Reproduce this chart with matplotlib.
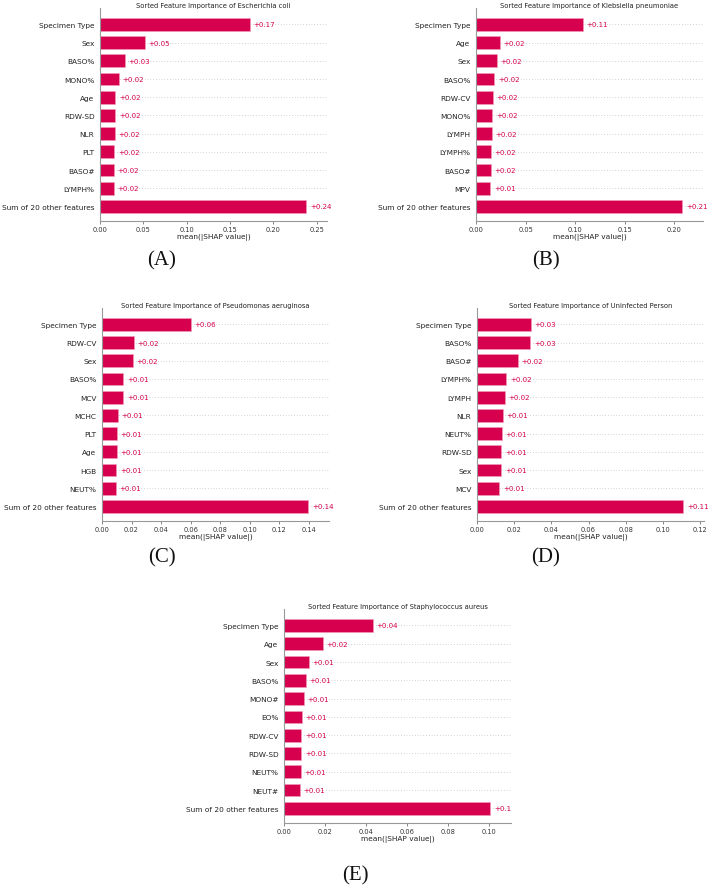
import matplotlib
matplotlib.use("Agg")
import matplotlib.pyplot as plt
from matplotlib.ticker import MultipleLocator

# feature names (top to bottom) and mean(|SHAP value|) for each panel
feat_a = ["Specimen Type", "Sex", "BASO%", "MONO%", "Age", "RDW-SD", "NLR", "PLT", "BASO#", "LYMPH%",
          "Sum of 20 other features"]
vals_a = [0.173, 0.0515, 0.029, 0.022, 0.0177, 0.0177, 0.0173, 0.0165, 0.0162, 0.0157, 0.238]

feat_b = ["Specimen Type", "Age", "Sex", "BASO%", "RDW-CV", "MONO%", "LYMPH", "LYMPH%", "BASO#", "MPV",
          "Sum of 20 other features"]
vals_b = [0.108, 0.0243, 0.021, 0.0185, 0.0169, 0.0165, 0.0157, 0.0152, 0.0151, 0.0146, 0.208]

feat_c = ["Specimen Type", "RDW-CV", "Sex", "BASO%", "MCV", "MCHC", "PLT", "Age", "HGB", "NEUT%",
          "Sum of 20 other features"]
vals_c = [0.060, 0.0217, 0.021, 0.0145, 0.0145, 0.0106, 0.0102, 0.0099, 0.0097, 0.0092, 0.1397]

feat_d = ["Specimen Type", "BASO%", "BASO#", "LYMPH%", "LYMPH", "NLR", "NEUT%", "RDW-SD", "Sex", "MCV",
          "Sum of 20 other features"]
vals_d = [0.0289, 0.0287, 0.0221, 0.0157, 0.0151, 0.014, 0.0135, 0.0131, 0.0131, 0.0121, 0.111]

feat_e = ["Specimen Type", "Age", "Sex", "BASO%", "MONO#", "EO%", "RDW-CV", "RDW-SD", "NEUT%", "NEUT#",
          "Sum of 20 other features"]
vals_e = [0.0433, 0.0191, 0.0121, 0.0106, 0.0098, 0.0087, 0.0085, 0.0085, 0.0083, 0.0077, 0.1008]

titles = ["Escherichia coli", "Klebsiella pneumoniae", "Pseudomonas aeruginosa",
          "Uninfected Person", "Staphylococcus aureus"]
letters = ["(A)", "(B)", "(C)", "(D)", "(E)"]
tick_steps = [0.05, 0.05, 0.02, 0.02, 0.02]

W, H = 708, 887
RED = "#d7004f"
fig = plt.figure(figsize=(W / 100, H / 100), dpi=100)
plt.rcParams['font.family'] = ['DejaVu Sans']


def fmt(v):
    s = "%+.2f" % v
    return s.rstrip("0").rstrip(".") if "." in s else s


def shap_bar(box, feats, vals, title, step):
    left, top, right, bottom = box
    ax = fig.add_axes([left / W, 1 - bottom / H, (right - left) / W, (bottom - top) / H])
    n = len(feats)
    ypos = list(range(n - 1, -1, -1))
    for y in ypos:
        ax.axhline(y, color="#aaaaaa", lw=0.5, dashes=(1, 3), zorder=-1)
    ax.barh(ypos, vals, height=0.7, color=RED, edgecolor="#f2a0bb", linewidth=0.4, zorder=2)
    for y, v in zip(ypos, vals):
        ax.annotate(fmt(v), (v, y), xytext=(2.6, 0), textcoords="offset points",
                    va="center", ha="left", color=RED, fontsize=5)
    ax.set_yticks(ypos)
    ax.set_yticklabels(feats, fontsize=5.3, color="#222222")
    ax.set_ylim(-0.8, n - 0.1)
    ax.set_xlim(0, max(vals) * 1.1)
    ax.xaxis.set_major_locator(MultipleLocator(step))
    ax.xaxis.set_major_formatter(plt.FormatStrFormatter("%.2f"))
    ax.tick_params(axis="x", labelsize=4.8, length=2, width=0.5, pad=1.5, color="#555555",
                   labelcolor="#333333")
    ax.tick_params(axis="y", length=0, pad=4)
    ax.set_xlabel("mean(|SHAP value|)", fontsize=5.3, labelpad=1, color="#222222")
    ax.set_title("Sorted Feature Importance of " + title, fontsize=4.9, pad=0.8, color="#222222")
    for s in ["top", "right"]:
        ax.spines[s].set_visible(False)
    for s in ["left", "bottom"]:
        ax.spines[s].set_color("#999999")
        ax.spines[s].set_linewidth(0.8)
    return ax


boxes = [(100, 9, 327, 222), (476, 9, 703, 222), (102, 309, 329, 522),
         (477, 309, 704, 522), (284, 610, 511, 824)]
feats = [feat_a, feat_b, feat_c, feat_d, feat_e]
vals = [vals_a, vals_b, vals_c, vals_d, vals_e]
for box, f, v, t, st in zip(boxes, feats, vals, titles, tick_steps):
    shap_bar(box, f, v, t, st)

letter_pos = [(162, 261), (546, 261), (162, 558), (546, 558), (355, 876)]
for (x, y), lab in zip(letter_pos, letters):
    fig.text(x / W, 1 - y / H, lab, ha="center", va="center", fontsize=15,
             family="Liberation Serif", color="#111111")

fig.savefig("out.png", dpi=100)
